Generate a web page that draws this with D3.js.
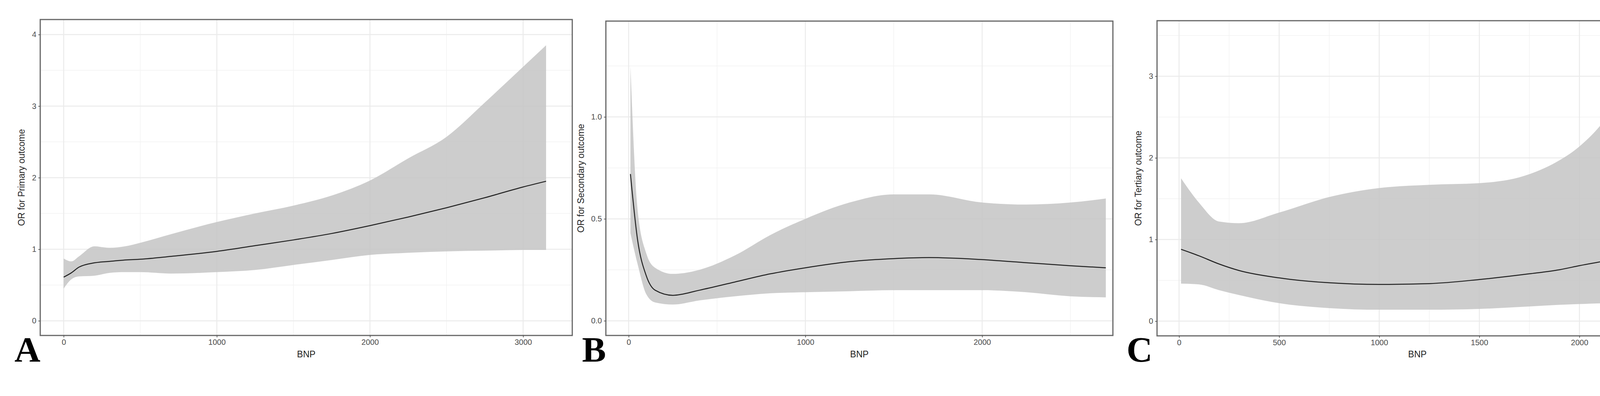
<!DOCTYPE html>
<html><head><meta charset="utf-8">
<script src="https://cdn.jsdelivr.net/npm/d3@7"></script>
<style>body{margin:0;background:#fff}svg{display:block}</style>
</head><body>
<svg id="c" width="4350" height="1014"></svg>
<script>
// Panel A – Primary outcome
const bnpA = [0, 50, 100, 200, 300, 400, 500, 700, 1000, 1250, 1500, 1750, 2000, 2250, 2500, 2750, 3000, 3150]
const fitA = [0.61, 0.67, 0.75, 0.81, 0.83, 0.85, 0.86, 0.90, 0.97, 1.05, 1.13, 1.22, 1.33, 1.45, 1.58, 1.72, 1.87, 1.95]
const loA  = [0.45, 0.58, 0.62, 0.63, 0.67, 0.68, 0.68, 0.66, 0.68, 0.71, 0.78, 0.85, 0.92, 0.95, 0.97, 0.98, 0.99, 0.99]
const hiA  = [0.87, 0.83, 0.90, 1.04, 1.02, 1.04, 1.09, 1.21, 1.38, 1.50, 1.61, 1.75, 1.96, 2.27, 2.57, 3.05, 3.55, 3.85]

// Panel B – Secondary outcome
const bnpB = [10, 50, 100, 150, 250, 400, 600, 800, 1000, 1250, 1500, 1700, 2000, 2250, 2500, 2700]
const fitB = [0.72, 0.40, 0.22, 0.15, 0.125, 0.15, 0.19, 0.23, 0.26, 0.29, 0.305, 0.31, 0.30, 0.285, 0.27, 0.26]
const loB  = [0.43, 0.28, 0.13, 0.09, 0.08, 0.10, 0.12, 0.135, 0.14, 0.145, 0.15, 0.15, 0.15, 0.14, 0.12, 0.115]
const hiB  = [1.25, 0.55, 0.33, 0.26, 0.23, 0.25, 0.32, 0.42, 0.50, 0.58, 0.62, 0.62, 0.58, 0.57, 0.58, 0.60]

// Panel C – Tertiary outcome
const bnpC = [10, 100, 200, 300, 500, 750, 1000, 1250, 1500, 1750, 1900, 2000, 2150, 2250, 2360]
const fitC = [0.88, 0.80, 0.70, 0.62, 0.53, 0.47, 0.45, 0.46, 0.51, 0.58, 0.63, 0.68, 0.75, 0.81, 0.87]
const loC  = [0.46, 0.45, 0.38, 0.32, 0.22, 0.16, 0.14, 0.14, 0.15, 0.18, 0.20, 0.21, 0.22, 0.22, 0.22]
const hiC  = [1.75, 1.45, 1.22, 1.20, 1.33, 1.52, 1.63, 1.67, 1.69, 1.80, 1.97, 2.14, 2.55, 3.00, 3.45]

const svg = d3.select('#c')

const panels = [
  {bnp: bnpA, fit: fitA, lo: loA, hi: hiA, letter: 'A', ytitle: 'OR for Primary outcome',
   box: [103, 50, 1465, 859], xd: [-153, 3321], yd: [-0.205, 4.21],
   xt: [0, 1000, 2000, 3000], xm: [500, 1500, 2500], yt: [0, 1, 2, 3, 4], ym: [0.5, 1.5, 2.5, 3.5],
   fmt: d3.format('d'), titleX: 63, letterX: 37},
  {bnp: bnpB, fit: fitB, lo: loB, hi: hiB, letter: 'B', ytitle: 'OR for Secondary outcome',
   box: [1551, 54, 2849, 859], xd: [-129, 2740], yd: [-0.072, 1.47],
   xt: [0, 1000, 2000], xm: [500, 1500, 2500], yt: [0, 0.5, 1], ym: [0.25, 0.75, 1.25],
   fmt: d3.format('.1f'), titleX: 1495, letterX: 1490},
  {bnp: bnpC, fit: fitC, lo: loC, hi: hiC, letter: 'C', ytitle: 'OR for Tertiary outcome',
   box: [2962, 53, 4295, 860], xd: [-110, 2491], yd: [-0.18, 3.68],
   xt: [0, 500, 1000, 1500, 2000], xm: [250, 750, 1250, 1750, 2250], yt: [0, 1, 2, 3], ym: [0.5, 1.5, 2.5, 3.5],
   fmt: d3.format('d'), titleX: 2922, letterX: 2884}
]

panels.forEach(p => {
  const [x0, y0, x1, y1] = p.box
  const x = d3.scaleLinear().domain(p.xd).range([x0, x1])
  const y = d3.scaleLinear().domain(p.yd).range([y1, y0])
  const g = svg.append('g')

  // grid
  g.selectAll('.gxm').data(p.xm).enter().append('line')
    .attr('x1', d => x(d)).attr('x2', d => x(d)).attr('y1', y0).attr('y2', y1)
    .attr('stroke', '#f2f2f2').attr('stroke-width', 1.5)
  g.selectAll('.gym').data(p.ym).enter().append('line')
    .attr('y1', d => y(d)).attr('y2', d => y(d)).attr('x1', x0).attr('x2', x1)
    .attr('stroke', '#f2f2f2').attr('stroke-width', 1.5)
  g.selectAll('.gx').data(p.xt).enter().append('line')
    .attr('x1', d => x(d)).attr('x2', d => x(d)).attr('y1', y0).attr('y2', y1)
    .attr('stroke', '#ebebeb').attr('stroke-width', 2.5)
  g.selectAll('.gy').data(p.yt).enter().append('line')
    .attr('y1', d => y(d)).attr('y2', d => y(d)).attr('x1', x0).attr('x2', x1)
    .attr('stroke', '#ebebeb').attr('stroke-width', 2.5)

  const idx = d3.range(p.bnp.length)
  g.append('path').datum(idx)
    .attr('d', d3.area().curve(d3.curveMonotoneX)
      .x(i => x(p.bnp[i])).y0(i => y(p.lo[i])).y1(i => y(p.hi[i])))
    .attr('fill', '#c4c4c4').attr('opacity', 0.85)
  g.append('path').datum(idx)
    .attr('d', d3.line().curve(d3.curveMonotoneX).x(i => x(p.bnp[i])).y(i => y(p.fit[i])))
    .attr('fill', 'none').attr('stroke', '#222').attr('stroke-width', 2.5)

  g.append('rect').attr('x', x0).attr('y', y0).attr('width', x1 - x0).attr('height', y1 - y0)
    .attr('fill', 'none').attr('stroke', '#666').attr('stroke-width', 3)

  // axes
  const ax = g.append('g').attr('transform', `translate(0,${y1})`)
    .call(d3.axisBottom(x).tickValues(p.xt).tickSize(5).tickPadding(5).tickFormat(d3.format('d')))
  const ay = g.append('g').attr('transform', `translate(${x0},0)`)
    .call(d3.axisLeft(y).tickValues(p.yt).tickSize(5).tickPadding(5).tickFormat(p.fmt))
  ;[ax, ay].forEach(a => {
    a.select('.domain').remove()
    a.selectAll('line').attr('stroke', '#444').attr('stroke-width', 1.5)
    a.selectAll('text').attr('fill', '#4d4d4d').style('font', '20px "Liberation Sans Narrow", Arial, sans-serif')
  })

  g.append('text').attr('x', (x0 + x1) / 2).attr('y', 915).attr('text-anchor', 'middle')
    .style('font', '23px "Liberation Sans", Arial, sans-serif').attr('fill', '#222').text('BNP')
  g.append('text').attr('transform', `translate(${p.titleX},${(y0 + y1) / 2}) rotate(-90)`)
    .attr('text-anchor', 'middle').style('font', '23px "Liberation Sans", Arial, sans-serif')
    .attr('fill', '#222').text(p.ytitle)
  g.append('text').attr('x', p.letterX).attr('y', 926)
    .style('font', 'bold 92px "Liberation Serif", "Times New Roman", serif').attr('fill', '#000').text(p.letter)
})
</script>
</body></html>
